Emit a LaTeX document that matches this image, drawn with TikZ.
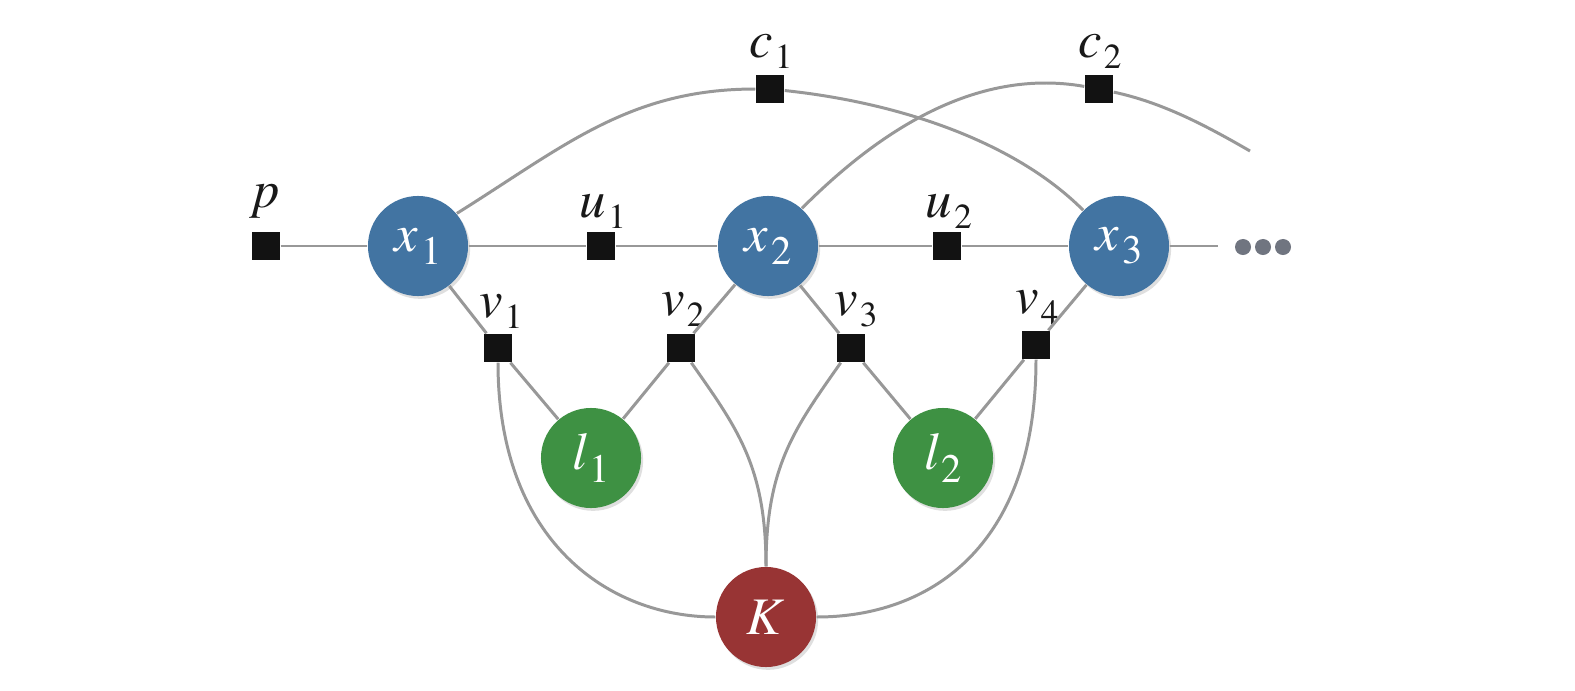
\documentclass[tikz,border=0pt]{standalone}
\usepackage{fontspec}
\setmainfont{TeX Gyre Termes}
\usetikzlibrary{shadows}
\definecolor{xblue}{RGB}{66,116,162}
\definecolor{lgreen}{RGB}{62,145,67}
\definecolor{kred}{RGB}{152,52,52}
\definecolor{edgegray}{RGB}{152,152,152}
\definecolor{dotgray}{RGB}{112,117,128}
\newcommand\olab[2]{\textit{#1}\kern0.6pt\raisebox{-3.2pt}{\fontsize{10}{11}\selectfont #2}}
\newcommand\ilab[2]{\textit{#1}\kern0.8pt\raisebox{-3.7pt}{\fontsize{11.5}{12}\selectfont #2}}
\begin{document}
\begin{tikzpicture}[x=0.01cm,y=0.01cm,
  every node/.style={font=\fontsize{15}{17}\selectfont},
  var/.style={circle, minimum size=1cm, inner sep=0pt, text=white,
    drop shadow={shadow xshift=0.6pt, shadow yshift=-0.8pt, opacity=0.25}},
  xvar/.style={var, fill=xblue},
  lvar/.style={var, fill=lgreen},
  kvar/.style={var, fill=kred},
  fac/.style={rectangle, fill=black!93, minimum size=0.28cm, inner sep=0pt},
  lab/.style={anchor=base, inner sep=0pt, text=black!90},
  edge/.style={draw=edgegray, line width=0.85pt},
  dotn/.style={circle, fill=dotgray, minimum size=0.16cm, inner sep=0pt}]
\useasboundingbox[fill=white] (0,0) rectangle (1575,690);
% nodes
\node[fac] (p) at (266,444) {};
\node[xvar] (x1) at (418,444) {\ilab{x}{1}};
\node[fac] (u1) at (601,444) {};
\node[xvar] (x2) at (768,444) {\ilab{x}{2}};
\node[fac] (u2) at (947,444) {};
\node[xvar] (x3) at (1119,444) {\ilab{x}{3}};
\coordinate (hend) at (1218,444);
\node[dotn] (d1) at (1243,443) {};
\node[dotn] (d2) at (1263,443) {};
\node[dotn] (d3) at (1283,443) {};
\node[fac] (c1) at (770,601) {};
\node[fac] (c2) at (1099,601) {};
\coordinate (c2end) at (1250,539);
\node[fac] (v1) at (498,342) {};
\node[fac] (v2) at (681,342) {};
\node[fac] (v3) at (851,342) {};
\node[fac] (v4) at (1036,345) {};
\node[lvar] (l1) at (591,232) {\ilab{l}{1}};
\node[lvar] (l2) at (943,232) {\ilab{l}{2}};
\node[kvar] (K) at (766,73) {\textit{K}};
% labels
\node[lab] (pl) at (267,483) {\textit{p}};
\node[lab] (u1l) at (603,473) {\olab{u}{1}};
\node[lab] (u2l) at (949,473) {\olab{u}{2}};
\node[lab] (c1l) at (771,633) {\olab{c}{1}};
\node[lab] (c2l) at (1100,633) {\olab{c}{2}};
\node[lab] (v1l) at (501,373) {\olab{v}{1}};
\node[lab] (v2l) at (683,375) {\olab{v}{2}};
\node[lab] (v3l) at (856,375) {\olab{v}{3}};
\node[lab] (v4l) at (1037,377) {\olab{v}{4}};
% horizontal chain
\draw[edge] (p) -- (x1);
\draw[edge] (x1) -- (u1);
\draw[edge] (u1) -- (x2);
\draw[edge] (x2) -- (u2);
\draw[edge] (u2) -- (x3);
\draw[edge] (x3) -- (hend);
% diagonals
\draw[edge] (x1) -- (v1);
\draw[edge] (v1) -- (l1);
\draw[edge] (x2) -- (v2);
\draw[edge] (v2) -- (l1);
\draw[edge] (x2) -- (v3);
\draw[edge] (v3) -- (l2);
\draw[edge] (x3) -- (v4);
\draw[edge] (v4) -- (l2);
% curves to K
\draw[edge] (v1) to[out=-90, in=180, out distance=1.8cm, in distance=1.05cm] (K);
\draw[edge] (v4) to[out=-90, in=0, out distance=1.9cm, in distance=1.1cm] (K);
\draw[edge] (v2) to[out=-55, in=90, out distance=0.8cm, in distance=1cm] (K);
\draw[edge] (v3) to[out=-125, in=90, out distance=0.8cm, in distance=1cm] (K);
% top arcs
\draw[edge] (x1.40) to[out=32, in=180] (c1);
\draw[edge] (c1) to[out=-6, in=135, out distance=1.1cm, in distance=1cm] (x3);
\draw[edge] (x2.48) to[out=45, in=170, out distance=0.9cm, in distance=1.2cm] (c2);
\draw[edge] (c2) to[out=-12, in=150, out distance=0.5cm, in distance=0.5cm] (c2end);
\end{tikzpicture}
\end{document}
